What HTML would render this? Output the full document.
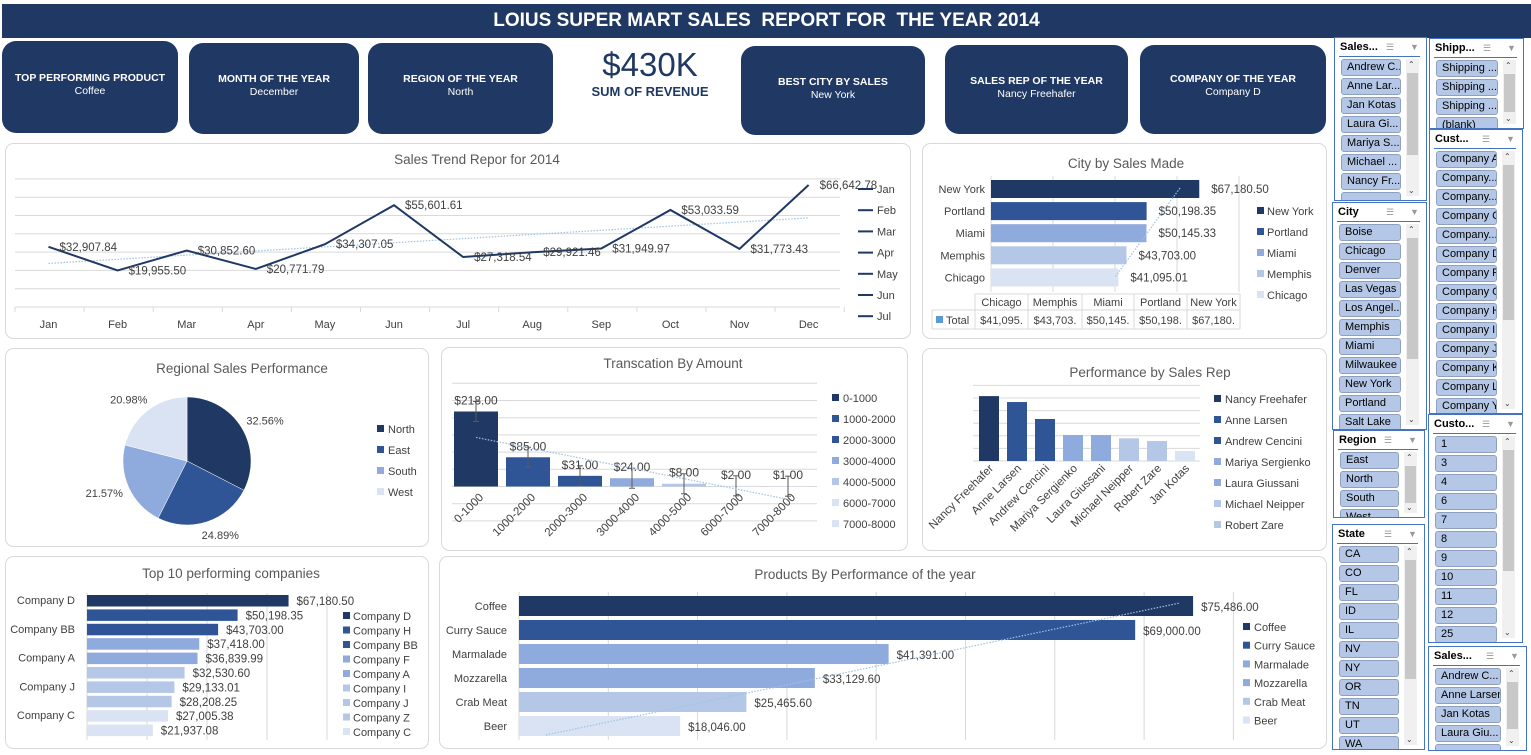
<!DOCTYPE html>
<html><head><meta charset="utf-8">
<style>
*{box-sizing:border-box;margin:0;padding:0}
body{width:1531px;height:755px;overflow:hidden;background:#fff;font-family:"Liberation Sans",sans-serif;position:relative}
.hdr{position:absolute;left:2px;top:4px;width:1529px;height:34px;background:#203864;color:#fff;font-weight:bold;font-size:19px;text-align:center;line-height:34px;padding-left:0}
.card{position:absolute;background:#203864;border-radius:14px;color:#fff;text-align:center;font-size:10.5px;line-height:13px}
.card b{display:block;font-size:10.5px}
.kpi{position:absolute;left:560px;top:46px;width:180px;text-align:center;color:#203864}
.slicer{position:absolute;border:1.5px solid #4472c4;background:#fff;overflow:hidden}
.slicer .t{position:absolute;left:5px;top:3px;font-size:11px;font-weight:bold;color:#000}
.slicer .ul{position:absolute;left:4px;right:6px;top:18px;height:1px;background:#4472c4}
.slicer .ic{position:absolute;top:4px;font-size:9px;color:#999}
.it{position:absolute;height:17px;background:#b4c7e7;border:1px solid #8ea0c0;border-radius:3px;font-size:11px;line-height:15px;padding-left:5px;color:#000;white-space:nowrap;overflow:hidden}
.sb{position:absolute;width:13px;background:#f0f0f0}
.sb .th{position:absolute;left:1px;right:1px;background:#c8c8c8}
.sb .ar{position:absolute;left:2px;font-size:8px;color:#444}
svg text{font-family:"Liberation Sans",sans-serif}
</style></head><body>
<div class="hdr">LOIUS SUPER MART SALES&nbsp; REPORT FOR&nbsp; THE YEAR 2014</div>

<div class="card" style="left:2px;top:41px;width:176px;height:92px;padding-top:31px"><b>TOP PERFORMING PRODUCT</b>Coffee</div>
<div class="card" style="left:189px;top:43px;width:170px;height:91px;padding-top:30px"><b>MONTH OF THE YEAR</b>December</div>
<div class="card" style="left:368px;top:43px;width:185px;height:91px;padding-top:30px"><b>REGION OF THE YEAR</b>North</div>
<div class="kpi"><div style="font-size:33px;line-height:38px">$430K</div><div style="font-size:13px;font-weight:bold;line-height:16px">SUM OF REVENUE</div></div>
<div class="card" style="left:741px;top:46px;width:184px;height:89px;padding-top:30px"><b>BEST CITY BY SALES</b>New York</div>
<div class="card" style="left:945px;top:45px;width:183px;height:89px;padding-top:30px"><b>SALES REP OF THE YEAR</b>Nancy Freehafer</div>
<div class="card" style="left:1140px;top:45px;width:186px;height:89px;padding-top:28px"><b>COMPANY OF THE YEAR</b>Company D</div>

<svg id="charts" width="1531" height="755" style="position:absolute;left:0;top:0"></svg>
<div id="slicers"></div>

<script>
// ---------- DATA ----------
const months=["Jan","Feb","Mar","Apr","May","Jun","Jul","Aug","Sep","Oct","Nov","Dec"];
const monthSales=[32907.84,19955.50,30852.60,20771.79,34307.05,55601.61,27318.54,29921.46,31949.97,53033.59,31773.43,66642.78];
const monthLabels=["$32,907.84","$19,955.50","$30,852.60","$20,771.79","$34,307.05","$55,601.61","$27,318.54","$29,921.46","$31,949.97","$53,033.59","$31,773.43","$66,642.78"];
const cities=["New York","Portland","Miami","Memphis","Chicago"];
const citySales=[67180.50,50198.35,50145.33,43703.00,41095.01];
const cityLabels=["$67,180.50","$50,198.35","$50,145.33","$43,703.00","$41,095.01"];
const regions=["North","East","South","West"];
const regionPct=[32.56,24.89,21.57,20.98];
const txnCats=["0-1000","1000-2000","2000-3000","3000-4000","4000-5000","6000-7000","7000-8000"];
const txnCounts=[218,85,31,24,8,2,1];
const reps=["Nancy Freehafer","Anne Larsen","Andrew Cencini","Mariya Sergienko","Laura Giussani","Michael Neipper","Robert Zare","Jan Kotas"];
const repSales=[103000,93600,66700,41300,41300,36000,31700,15900];
const companies=["Company D","Company H","Company BB","Company F","Company A","Company I","Company J","Company Z","Company C","Company L"];
const companySales=[67180.50,50198.35,43703.00,37418.00,36839.99,32530.60,29133.01,28208.25,27005.38,21937.08];
const companyLabels=["$67,180.50","$50,198.35","$43,703.00","$37,418.00","$36,839.99","$32,530.60","$29,133.01","$28,208.25","$27,005.38","$21,937.08"];
const products=["Coffee","Curry Sauce","Marmalade","Mozzarella","Crab Meat","Beer"];
const productSales=[75486.00,69000.00,41391.00,33129.60,25465.60,18046.00];
const productLabels=["$75,486.00","$69,000.00","$41,391.00","$33,129.60","$25,465.60","$18,046.00"];

const C1="#203864",C2="#2f5597",C3="#8faadc",C4="#b4c7e7",C5="#dae3f3";
const svg=document.getElementById('charts');
const NS="http://www.w3.org/2000/svg";
function mk(tag,attrs,name,inter){const el=document.createElementNS(NS,tag);for(const k in attrs)el.setAttribute(k,attrs[k]);


svg.appendChild(el);return el;}
function tx(x,y,s,name,o){o=o||{};const el=mk('text',{x:x,y:y,'font-size':o.fs||11,fill:o.fill||'#404040','text-anchor':o.a||'start'},name);if(o.rot)el.setAttribute('transform','rotate('+o.rot+' '+x+' '+y+')');el.textContent=s;return el;}
function ln(x1,y1,x2,y2,name,st,w,dash){const e=mk('line',{x1:x1,y1:y1,x2:x2,y2:y2,stroke:st||'#d9d9d9','stroke-width':w||1},name);if(dash)e.setAttribute('stroke-dasharray',dash);return e;}
function panel(x,y,w,h,name,title,tx0,ty){mk('rect',{x:x+.5,y:y+.5,width:w,height:h,rx:8,fill:'#fff',stroke:'#d9d9d9'},name);tx(tx0,ty,title,name+'-title',{fs:13.5,fill:'#595959',a:'middle'});}
function trend(xs,ys,name){const n=xs.length;let mx=0,my=0;for(let i=0;i<n;i++){mx+=xs[i];my+=ys[i];}mx/=n;my/=n;let sxy=0,sxx=0;for(let i=0;i<n;i++){sxy+=(xs[i]-mx)*(ys[i]-my);sxx+=(xs[i]-mx)**2;}const b=sxy/sxx,a=my-b*mx;return [a,b];}

// ---------- LINE CHART ----------
panel(5,143,905,195,'sales-trend-panel','Sales Trend Repor for 2014',477,164);
(function(){
const x=i=>48.5+i*69.1, y=v=>307-v/10000*18.3;
for(let g=0;g<=7;g++) ln(15,y(g*10000),840,y(g*10000),'y-gridline');
for(let i=0;i<=12;i++) ln(15+i*69.1,307,15+i*69.1,312,'x-tick');
months.forEach((m,i)=>tx(x(i),328,m,'x-label',{a:'middle'}));
const [a,b]=trend(monthSales.map((v,i)=>i),monthSales);
ln(x(0),y(a),x(11),y(a+b*11),'trendline','#9dc3e6',1.2,'1.5,1.5');
mk('polyline',{points:monthSales.map((v,i)=>x(i)+','+y(v)).join(' '),fill:'none',stroke:C1,'stroke-width':2},'sales-line');
monthSales.forEach((v,i)=>tx(x(i)+11,y(v)+4,monthLabels[i],'data-label',{fs:11.5}));
months.slice(0,7).forEach((m,i)=>{ln(858,189+i*21.2,873,189+i*21.2,'legend-line',C1,2);tx(877,193+i*21.2,m,'legend-entry');});
})();

// ---------- CITY ----------
panel(922,143,404,195,'city-sales-panel','City by Sales Made',1126,168);
(function(){
const x=v=>991+v/20000*62;
for(let g=0;g<=4;g++) ln(x(g*20000),176,x(g*20000),292,'x-gridline');
const cols=[C1,C2,C3,C4,C5];
citySales.forEach((v,i)=>{const yy=180+i*22.1;mk('rect',{x:991,y:yy,width:x(v)-991,height:18,fill:cols[i]},'bar-'+cities[i].toLowerCase().replace(' ','-'));
tx(985,yy+13,cities[i],'y-label',{a:'end'});tx(x(v)+12,yy+13,cityLabels[i],'data-label',{fs:11.5});
mk('rect',{x:1257,y:207+i*21,width:7,height:7,fill:cols[i]},'legend-swatch');tx(1267,215+i*21,cities[i],'legend-entry');});
ln(1180,188,1115,277,'trendline','#9dc3e6',1.2,'1.5,1.5');
// data table
const cx=[975,1028,1082,1134,1187,1240];
ln(975,294,1240,294,'table-line');ln(932,310,1240,310,'table-line');ln(932,329,1240,329,'table-line');ln(932,310,932,329,'table-line');
cx.forEach(c=>ln(c,294,c,329,'table-line'));
const order=[4,3,2,1,0];
order.forEach((k,j)=>{tx((cx[j]+cx[j+1])/2,306,cities[k],'table-header',{a:'middle'});tx((cx[j]+cx[j+1])/2,324,cityLabels[k].slice(0,8),'table-value',{a:'middle'});});
mk('rect',{x:936,y:316,width:7,height:7,fill:'#5b9bd5'},'table-legend-key');tx(946,324,'Total','table-row-label');
})();

// ---------- PIE ----------
panel(5,348,423,198,'regional-panel','Regional Sales Performance',242,373);
(function(){
const cx=187,cy=461,r=64,cols=[C1,C2,C3,C5];let a0=-Math.PI/2;
const lp=[[267,425],[229,538],[103,497],[124,405]];
regionPct.forEach((p,i)=>{const a1=a0+p/100*2*Math.PI;const large=(a1-a0)>Math.PI?1:0;
mk('path',{d:`M${cx},${cy} L${cx+r*Math.cos(a0)},${cy+r*Math.sin(a0)} A${r},${r} 0 ${large} 1 ${cx+r*Math.cos(a1)},${cy+r*Math.sin(a1)} Z`,fill:cols[i],stroke:'#fff','stroke-width':0.5},'slice-'+regions[i].toLowerCase());
const mid=(a0+a1)/2;tx(cx+(r+18)*Math.cos(mid)+ (Math.cos(mid)>0?8:-8),cy+(r+14)*Math.sin(mid)+4,p.toFixed(2)+'%','slice-label',{a:'middle'});
a0=a1;
mk('rect',{x:377,y:425+i*21,width:7,height:7,fill:cols[i]},'legend-swatch');tx(388,433+i*21,regions[i],'legend-entry');});
})();

// ---------- TRANSACTIONS ----------
panel(441,347,466,203,'transaction-panel','Transcation By Amount',673,368);
(function(){
const y=v=>486.5-v/50*17.2, cx=i=>476+i*52;
for(let g=-2;g<=6;g++) ln(452,y(g*50),817,y(g*50),'y-gridline');
const cols=[C1,C2,C2,C3,C4,C5,C5];
txnCounts.forEach((v,i)=>{mk('rect',{x:cx(i)-22,y:y(v),width:44,height:486.5-y(v),fill:cols[i]},'bar-'+txnCats[i]);
tx(cx(i),y(v)-7,'$'+v.toFixed(2),'data-label',{fs:12,a:'middle'});
ln(cx(i),y(v)-10,cx(i),y(v)+10,'error-bar','#595959');ln(cx(i)-3,y(v)-10,cx(i)+3,y(v)-10,'error-cap','#595959');ln(cx(i)-3,y(v)+10,cx(i)+3,y(v)+10,'error-cap','#595959');
tx(cx(i)+8,498,txnCats[i],'x-label',{a:'end',rot:-45,fs:11.5});
mk('rect',{x:832,y:394+i*21,width:7,height:7,fill:cols[i]},'legend-swatch');tx(843,402+i*21,txnCats[i],'legend-entry');});
const [a,b]=trend(txnCounts.map((v,i)=>i),txnCounts);
ln(cx(0),y(a),cx(6),y(a+b*6),'trendline','#9dc3e6',1.2,'1.5,1.5');
})();

// ---------- SALES REP ----------
panel(922,348,404,202,'sales-rep-panel','Performance by Sales Rep',1150,377);
(function(){
const y=v=>461-v/20000*12.6, cx=i=>989+i*28;
for(let g=0;g<=6;g++) ln(973,y(g*20000),1200,y(g*20000),'y-gridline');
const cols=[C1,C2,C2,C3,C3,C4,C4,C5];
repSales.forEach((v,i)=>{mk('rect',{x:cx(i)-10,y:y(v),width:20,height:461-y(v),fill:cols[i]},'bar-rep');
tx(cx(i)+5,469,reps[i],'x-label',{a:'end',rot:-45,fs:11.5});
if(i<7){mk('rect',{x:1214,y:395+i*21,width:7,height:7,fill:cols[i]},'legend-swatch');tx(1225,403+i*21,reps[i],'legend-entry');}});
})();

// ---------- TOP 10 COMPANIES ----------
panel(5,556,423,192,'top-companies-panel','Top 10 performing companies',231,578);
(function(){
const x=v=>87+v/20000*60, y=i=>595+i*14.4;
for(let g=0;g<=4;g++) ln(x(g*20000),593,x(g*20000),740,'x-gridline');
const cols=[C1,C2,C2,C3,C3,C4,C4,C4,C5,C5];
companySales.forEach((v,i)=>{mk('rect',{x:87,y:y(i),width:x(v)-87,height:11.5,fill:cols[i]},'bar-company');
tx(x(v)+8,y(i)+10,companyLabels[i],'data-label',{fs:11.5});
if(i%2==0) tx(75,y(i)+9,companies[i],'y-label',{a:'end'});
if(i<9){mk('rect',{x:343,y:612+i*14.5,width:7,height:7,fill:cols[i]},'legend-swatch');tx(353,620+i*14.5,companies[i],'legend-entry');}});
})();

// ---------- PRODUCTS ----------
panel(439,556,887,192,'products-panel','Products By Performance of the year',865,579);
(function(){
const x=v=>519+v/10000*89.3, y=i=>596+i*24;
for(let g=0;g<=8;g++) ln(x(g*10000),592,x(g*10000),740,'x-gridline');
const cols=[C1,C2,C3,C3,C4,C5];
productSales.forEach((v,i)=>{mk('rect',{x:519,y:y(i),width:x(v)-519,height:20,fill:cols[i]},'bar-product');
tx(x(v)+8,y(i)+15,productLabels[i],'data-label',{fs:11.5});
tx(507,y(i)+14,products[i],'y-label',{a:'end'});
mk('rect',{x:1243,y:623+i*18.7,width:7,height:7,fill:cols[i]},'legend-swatch');tx(1254,631+i*18.7,products[i],'legend-entry');});
ln(x(3000),735,x(74000),603,'trendline','#9dc3e6',1.2,'1.5,1.5');
})();

// ---------- SLICERS ----------
const slicerDefs=[
 ['sales-rep-slicer','Sales...',1334,37,93,164,["Andrew C...","Anne Lar...","Jan Kotas","Laura Gi...","Mariya S...","Michael ...","Nancy Fr...",""]],
 ['shipping-slicer','Shipp...',1429,38,95,91,["Shipping ...","Shipping ...","Shipping ...","(blank)"]],
 ['customer-slicer','Cust...',1429,129,94,285,["Company A","Company...","Company...","Company C","Company...","Company D","Company F","Company G","Company H","Company I","Company J","Company K","Company L","Company Y"]],
 ['city-slicer','City',1332,202,95,228,["Boise","Chicago","Denver","Las Vegas","Los Angel...","Memphis","Miami","Milwaukee","New York","Portland","Salt Lake"]],
 ['region-slicer','Region',1333,430,92,88,["East","North","South","West"]],
 ['customer-id-slicer','Custo...',1428,414,95,229,["1","3","4","6","7","8","9","10","11","12","25"]],
 ['state-slicer','State',1332,524,93,226,["CA","CO","FL","ID","IL","NV","NY","OR","TN","UT","WA"]],
 ['sales-rep-slicer-2','Sales...',1428,646,99,105,["Andrew C...","Anne Larsen","Jan Kotas","Laura Giu...",""]]
];
const host=document.getElementById('slicers');
slicerDefs.forEach(d=>{
 const [name,title,x,y,w,h,items]=d;
 const s=document.createElement('div');s.className='slicer';
 
 
 s.style.cssText=`left:${x}px;top:${y}px;width:${w}px;height:${h}px`;
 let html=`<div class="t">${title}</div><div class="ic" style="left:${w-42}px">&#9776;</div><div class="ic" style="left:${w-18}px">&#9660;</div><div class="ul"></div>`;
 s.innerHTML=html;
 items.forEach((it,i)=>{const top=21+i*19;if(top>h-4)return;const b=document.createElement('div');b.className='it';
  
  
  b.style.cssText=`left:6px;top:${top}px;width:${w-33}px`;b.textContent=it;s.appendChild(b);});
 const sb=document.createElement('div');sb.className='sb';
 
 
 sb.style.cssText=`left:${w-22}px;top:21px;height:${h-27}px`;
 sb.innerHTML=`<div class="ar" style="top:1px">&#8963;</div><div class="th" style="top:14px;height:${Math.max(20,(h-27)*0.6)}px"></div><div class="ar" style="bottom:1px">&#8964;</div>`;
 s.appendChild(sb);host.appendChild(s);
});
</script>
</body></html>
